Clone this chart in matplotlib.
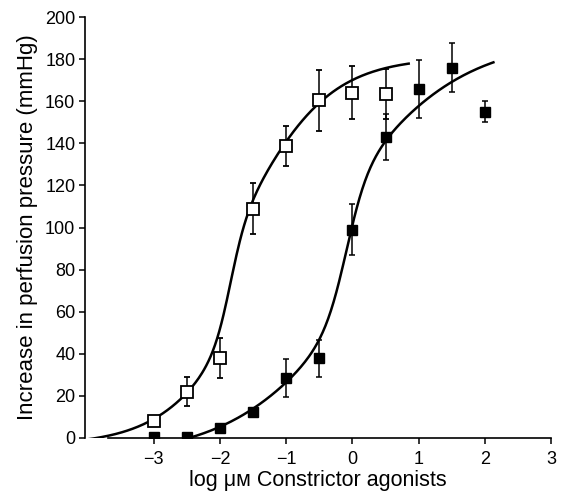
import numpy as np
import matplotlib
matplotlib.use("Agg")
import matplotlib.pyplot as plt

plt.rcParams["font.family"] = ["Liberation Sans", "DejaVu Sans"]

# open squares
conc = np.array([-3, -2.5, -2, -1.5, -1, -0.5, 0, 0.5])
open_mean = np.array([8, 22, 38, 109, 138.5, 160.5, 164, 163.5])
open_err = np.array([0, 7, 9.5, 12, 9.5, 14.5, 12.5, 12])

# filled squares
conc_f = np.array([-3, -2.5, -2, -1.5, -1, -0.5, 0, 0.5, 1, 1.5, 2])
filled_mean = np.array([0.5, 0.5, 4.6, 12.2, 28.4, 37.9, 99, 143, 165.8, 176, 155])
filled_err = np.array([0, 0, 0, 0, 9, 8.7, 12, 11, 13.7, 11.7, 5])

# fitted curves: B, c, T1, h1, T2, h2, d  (two-component sigmoid)
open_fit = [-3.42, -1.844, 49.32, 3.5, 134.96, 0.684, 0.294]
filled_fit = [-8.85, -0.088, 64.83, 2.682, 133.51, 0.477, 0.026]
open_end = 0.85
filled_end = 2.13


def curve(p, x):
    B, c, T1, h1, T2, h2, d = p
    return (B + T1 / (1 + 10 ** (h1 * (c - x)))
            + T2 / (1 + 10 ** (h2 * (c + d - x))))


fig = plt.figure(figsize=(5.62, 4.93), dpi=100)
ax = fig.add_axes([85 / 562, 1 - 438 / 493, 466 / 562, 421 / 493])

xo = np.linspace(-4.04, open_end, 300)
xf = np.linspace(-4.04, filled_end, 300)
ax.plot(xo, curve(open_fit, xo), color="black", lw=1.8, zorder=2)
ax.plot(xf, curve(filled_fit, xf), color="black", lw=1.8, zorder=2)

ax.errorbar(conc_f, filled_mean, yerr=filled_err, fmt="s", color="black",
            mfc="black", mec="black", ms=7.8, elinewidth=1.1, capsize=2.5,
            capthick=1.1, zorder=3)
ax.errorbar(conc, open_mean, yerr=open_err, fmt="s", color="black",
            mfc="white", mec="black", ms=8, mew=1.3, elinewidth=1.1,
            capsize=2.5, capthick=1.1, zorder=4)

ax.set_xlim(-4.04, 3.0)
ax.set_ylim(0, 200)
ax.spines["top"].set_visible(False)
ax.spines["right"].set_visible(False)
ax.spines["bottom"].set_bounds(-3.7, 3)
for s in ["left", "bottom"]:
    ax.spines[s].set_linewidth(1.2)
    ax.spines[s].set_clip_on(False)

ax.set_xticks(range(-3, 4))
ax.set_xticklabels(["\u22123", "\u22122", "\u22121", "0", "1", "2", "3"])
ax.set_yticks(range(0, 201, 20))
ax.tick_params(direction="out", length=4, width=1.1, labelsize=13, pad=3)
ax.tick_params(axis="x", pad=5)
ax.set_xlabel("log \u03bc\u1d0d Constrictor agonists", fontsize=15.5, labelpad=2)
ax.set_ylabel("Increase in perfusion pressure (mmHg)", fontsize=16, labelpad=5)

fig.savefig("out.png")
